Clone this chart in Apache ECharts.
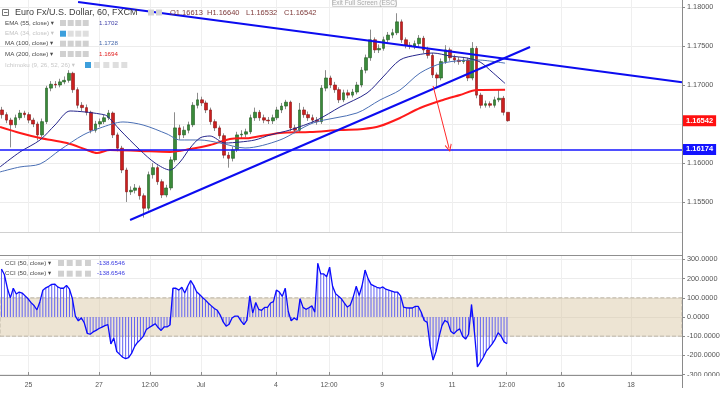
<!DOCTYPE html>
<html><head><meta charset="utf-8">
<script src="https://cdn.jsdelivr.net/npm/echarts@6/dist/echarts.min.js"></script>
<style>html,body{margin:0;padding:0;background:#fff}#c{width:724px;height:393px}</style>
</head><body><div id="c"></div>
<script>
// ---------- data (3-hour candles, x measured in trading hours from left edge) ----------
const firstOpen = 1.1668;
const closes = [
1.1662,1.1655,1.1649,1.1658,1.1664,1.1662,1.1655,1.1650,1.1636,1.1653,
1.1696,1.1701,1.1700,1.1704,1.1706,1.1715,1.1694,1.1674,1.1671,1.1665,
1.1642,1.1650,1.1653,1.1658,1.1664,1.1636,1.1619,1.1591,1.1563,1.1565,
1.1568,1.1558,1.1542,1.1585,1.1594,1.1576,1.1559,1.1568,1.1604,1.1645,
1.1636,1.1642,1.1649,1.1674,1.1681,1.1677,1.1668,1.1653,1.1645,1.1635,
1.1610,1.1606,1.1617,1.1636,1.1637,1.1640,1.1658,1.1665,1.1658,1.1655,
1.1654,1.1658,1.1668,1.1673,1.1678,1.1645,1.1642,1.1668,1.1662,1.1658,
1.1655,1.1653,1.1696,1.1709,1.1700,1.1694,1.1681,1.1690,1.1687,1.1691,
1.1700,1.1719,1.1735,1.1758,1.1745,1.1747,1.1758,1.1764,1.1767,1.1781,
1.1758,1.1751,1.1750,1.1753,1.1760,1.1745,1.1738,1.1713,1.1709,1.1730,
1.1745,1.1735,1.1732,1.1730,1.1732,1.1709,1.1747,1.1687,1.1674,1.1676,
1.1674,1.1681,1.1683,1.1665,1.16542];
const highs = [
1.1672,1.1665,1.1658,1.1662,1.1668,1.1667,1.1665,1.1658,1.1653,1.1657,
1.1699,1.1705,1.1705,1.1708,1.1711,1.1719,1.1717,1.1697,1.1678,1.1675,
1.1667,1.1654,1.1657,1.1662,1.1668,1.1666,1.1639,1.1622,1.1594,1.1570,
1.1573,1.1571,1.1561,1.1589,1.1600,1.1597,1.1579,1.1572,1.1608,1.1665,
1.1649,1.1647,1.1653,1.1678,1.1690,1.1685,1.1680,1.1671,1.1656,1.1648,
1.1638,1.1614,1.1621,1.1640,1.1642,1.1644,1.1662,1.1671,1.1668,1.1662,
1.1659,1.1662,1.1672,1.1677,1.1681,1.1680,1.1649,1.1677,1.1672,1.1666,
1.1662,1.1659,1.1700,1.1719,1.1712,1.1704,1.1697,1.1694,1.1694,1.1695,
1.1704,1.1723,1.1739,1.1771,1.1761,1.1752,1.1762,1.1768,1.1772,1.1792,
1.1784,1.1761,1.1755,1.1757,1.1764,1.1763,1.1749,1.1741,1.1716,1.1734,
1.1751,1.1748,1.1739,1.1736,1.1736,1.1735,1.1755,1.1750,1.1690,1.1680,
1.1679,1.1685,1.1694,1.1686,1.1664];
const lows = [
1.1657,1.1651,1.1620,1.1645,1.1655,1.1658,1.1651,1.1646,1.1629,1.1633,
1.1650,1.1692,1.1696,1.1697,1.1701,1.1703,1.1690,1.1670,1.1666,1.1661,
1.1638,1.1639,1.1646,1.1650,1.1655,1.1632,1.1615,1.1587,1.1550,1.1559,
1.1561,1.1553,1.1530,1.1539,1.1580,1.1572,1.1555,1.1556,1.1565,1.1601,
1.1630,1.1632,1.1638,1.1646,1.1670,1.1673,1.1664,1.1649,1.1641,1.1631,
1.1606,1.1594,1.1602,1.1614,1.1632,1.1633,1.1637,1.1654,1.1654,1.1651,
1.1650,1.1650,1.1655,1.1664,1.1669,1.1641,1.1638,1.1639,1.1658,1.1654,
1.1651,1.1649,1.1650,1.1692,1.1696,1.1690,1.1677,1.1678,1.1683,1.1684,
1.1688,1.1697,1.1715,1.1731,1.1741,1.1741,1.1744,1.1755,1.1760,1.1764,
1.1754,1.1747,1.1746,1.1746,1.1749,1.1741,1.1734,1.1709,1.1697,1.1706,
1.1727,1.1731,1.1728,1.1726,1.1727,1.1705,1.1706,1.1683,1.1670,1.1671,
1.1671,1.1671,1.1678,1.1661,1.1653];
const candleHours = 3;

// moving averages: [hour, price]
const ema55 = [[0,1.15949],[13.5,1.16141],[27.1,1.16295],[37.2,1.16487],[47.4,1.16667],[57.5,1.16654],[67.7,1.16628],[72.4,1.16603],[81.2,1.16423],[94.7,1.16167],[104.9,1.16000],[115,1.15910],[121.8,1.16013],[128.6,1.16192],[135.3,1.16321],[142.1,1.16346],[152.2,1.16256],[162.4,1.16269],[172.5,1.16295],[182.7,1.16359],[196.2,1.16423],[214.5,1.16551],[230,1.16718],[248.3,1.16897],[259.1,1.17103],[270.6,1.17321],[282.1,1.17385],[293,1.17410],[304.5,1.17372],[316,1.17346],[324.8,1.17295],[332.9,1.17167],[341.7,1.17020]];
const ma100 = [[0,1.15885],[13.5,1.15949],[27.1,1.15987],[40.6,1.16167],[56.2,1.16359],[67.7,1.16449],[83.2,1.16526],[96.8,1.16487],[113,1.16372],[121.8,1.16295],[135.3,1.16295],[148.9,1.16256],[165.8,1.16192],[189.4,1.16295],[211.8,1.16513],[241.5,1.16641],[257.1,1.16808],[270.6,1.16936],[284.2,1.17154],[299.7,1.17282],[322.7,1.17321],[341.7,1.17280]];
const ma200 = [[0,1.16462],[13.5,1.16385],[27.1,1.16321],[45.3,1.16256],[58.9,1.16167],[65.6,1.16128],[74.4,1.16167],[94.7,1.16154],[115,1.16141],[128.6,1.16179],[142.1,1.16231],[155.6,1.16308],[169.1,1.16321],[189.4,1.16385],[209.7,1.16397],[230,1.16423],[245.6,1.16436],[257.1,1.16474],[270.6,1.16577],[284.2,1.16705],[299.7,1.16808],[311.2,1.16872],[322.7,1.16936],[341.7,1.16940]];

// CCI(50) sampled every 2 hours
const cciHours = 2;
const cci = [
250,220,150,100,150,120,130,125,110,95,
75,60,37,80,140,152,160,170,172,157,
150,150,165,145,95,5,-20,-5,-30,-85,
-90,-78,-70,-60,-53,-45,-40,-140,-110,-180,
-195,-210,-217,-212,-190,-155,-133,-118,-100,-65,
-55,-45,-35,-55,-70,-52,-52,-42,150,150,
140,155,125,160,190,165,132,117,102,88,
72,58,44,35,10,-26,-48,-38,-5,5,
5,-20,-40,-18,110,20,75,40,35,50,
50,73,80,140,130,108,150,30,-20,-5,
-16,95,50,40,48,58,25,280,225,225,
210,260,160,122,108,95,72,52,63,105,
160,112,165,245,200,170,162,155,150,157,
145,140,135,130,130,110,52,48,47,47,
55,55,25,-18,-28,-150,-225,-180,-105,-45,
-18,-28,-75,-88,-72,-62,-100,-115,-90,65,
-80,-260,-235,-210,-178,-160,-140,-115,-82,-100,
-130,-138.65];

// drawings
const trendDown = [[52.8,1.18064],[461.4,1.17035]];
const trendUp = [[88,1.15269],[358.6,1.17487]];
const arrowPts = [[293,1.16987],[303.8,1.1619]];
const supportLevel = 1.16174;
const lastPrice = 1.16542;

// axes
const timeTickHours = [19.35,67,101.5,136,186.7,222.6,258.5,305.8,342.8,379.6,426.9];
const timeTickLabels = ['25','27','12:00','Jul','4','12:00','9','11','12:00','16','18'];
const priceTicks = [1.155,1.16,1.165,1.17,1.175,1.18];
const priceLabelTicks = [1.155,1.16,1.17,1.175,1.18];
const cciTicks = [-300,-200,-100,0,100,200,300];

// ---------- build ----------
const FF = '"Liberation Sans", Arial, "DejaVu Sans", sans-serif';
const XMAX = 461.4;
const opens = closes.map((c,i)=> i===0 ? firstOpen : closes[i-1]);
const cx = i => i*candleHours + candleHours/2;
const wickData = closes.map((c,i)=>[cx(i), opens[i], c, lows[i], highs[i]]);
const bodyData = closes.map((c,i)=>[cx(i), opens[i], c, Math.min(opens[i],c), Math.max(opens[i],c)]);
const cciData = cci.map((v,i)=>[i*cciHours + cciHours/2, v]);

function timeLabel(v){
  let b=0; for(let i=1;i<timeTickHours.length;i++){ if(Math.abs(timeTickHours[i]-v)<Math.abs(timeTickHours[b]-v)) b=i; }
  return timeTickLabels[b];
}

const G = [];
function T(x,y,text,fill,size,align){ G.push({type:'text', x:x, y:y, z:50, silent:true, style:{text:text, fill:fill, fontSize:size, fontFamily:FF, align:align||'left', verticalAlign:'middle'}}); }
function R(x,y,w,h,fill,stroke){ G.push({type:'rect', z:50, silent:true, shape:{x:x,y:y,width:w,height:h}, style:{fill:fill, stroke:stroke||null, lineWidth:stroke?1:0}}); }
// right axis line
G.push({type:'line', z:40, silent:true, shape:{x1:682.5,y1:0,x2:682.5,y2:388}, style:{stroke:'#8a8a8a', lineWidth:1}});
// title row
R(2.5,9.5,6,6,'#fff','#777'); G.push({type:'line', z:51, silent:true, shape:{x1:4,y1:12.5,x2:7.5,y2:12.5}, style:{stroke:'#777',lineWidth:1}});
T(15,12.5,'Euro Fx/U.S. Dollar, 60, FXCM','#3c3c3c',9);
R(148,9.5,6,6,'#d2d2d2'); R(156,9.5,6,6,'#d2d2d2');
T(170,12.5,'O1.16613','#7e3a3a',7.5); T(207,12.5,'H1.16640','#7e3a3a',7.5);
T(246,12.5,'L1.16532','#7e3a3a',7.5); T(284,12.5,'C1.16542','#7e3a3a',7.5);
// exit full screen
R(332.5,-4.5,64,11,'#fafafa','#d4d4d4'); T(364.5,3.2,'Exit Full Screen (ESC)','#a8a8a8',6.5,'center');
// indicator legends
function icons(xs,y,blueIdx,light){ xs.forEach((x,i)=>R(x,y,6,6, i===blueIdx ? '#3d9fdc' : (light ? '#dedede' : '#d0d0d0'))); }
const ic4 = [60,67.7,75.3,82.7];
const LS = 6.2;
T(5,23,'EMA (55, close) \u25BE','#4a4a4a',LS); icons(ic4,20,-1,false); T(99,23,'1.1702','#4040a8',LS);
T(5,33.7,'EMA (34, close) \u25BE','#c4c4c4',LS); icons(ic4,30.7,0,true);
T(5,43.7,'MA (100, close) \u25BE','#4a4a4a',LS); icons(ic4,40.7,-1,false); T(99,43.7,'1.1728','#4466aa',LS);
T(5,54,'MA (200, close) \u25BE','#4a4a4a',LS); icons(ic4,51,-1,false); T(99,54,'1.1694','#e02020',LS);
T(5,65,'Ichimoku (9, 26, 52, 26) \u25BE','#c8c8c8',LS); icons([85,94,103.3,112.7,121.3],62,0,true);
const icC = [58,66.7,75.7,85];
T(5,263,'CCI (50, close) \u25BE','#4a4a4a',LS); icons(icC,260,-1,false); T(97,263,'-138.6546','#3a3ae0',LS);
T(5,273.5,'CCI (50, close) \u25BE','#4a4a4a',LS); icons(icC,270.7,-1,false); T(97,273.5,'-138.6546','#3a3ae0',LS);
// cover for clipped lowest CCI label
G.push({type:'rect', z:60, silent:true, shape:{x:684,y:376,width:40,height:17}, style:{fill:'#fff'}});

const chart = echarts.init(document.getElementById('c'), null, {renderer:'canvas'});
const gridLine = {show:true, lineStyle:{color:'#ececec', width:1}};
const tag = (txt,bg)=>({show:true, position:'end', formatter:txt, color:'#fff', backgroundColor:bg, fontSize:7.5, fontWeight:'bold', fontFamily:FF, padding:[2,3,1,3], distance:1});
chart.setOption({
  animation:false,
  backgroundColor:'#fff',
  grid:[{left:0, top:0, width:682, height:232}, {left:0, top:255, width:682, height:120}],
  xAxis:[
    {gridIndex:0, type:'value', min:0, max:XMAX, axisLine:{show:true, onZero:false, lineStyle:{color:'#d0d0d0'}},
     axisTick:{show:false, customValues:timeTickHours}, axisLabel:{show:false, customValues:timeTickHours}, splitLine:{show:true, lineStyle:{color:'#efefef'}}},
    {gridIndex:1, type:'value', min:0, max:XMAX, position:'bottom', axisLine:{show:true, onZero:false, lineStyle:{color:'#8f8f8f'}},
     axisTick:{show:true, inside:true, length:3, customValues:timeTickHours, lineStyle:{color:'#8f8f8f'}},
     axisLabel:{customValues:timeTickHours, formatter:timeLabel, fontSize:6.8, fontFamily:FF, color:'#555', margin:7},
     splitLine:{show:true, lineStyle:{color:'#efefef'}}},
    {gridIndex:1, type:'value', min:0, max:XMAX, position:'top', axisLine:{show:true, onZero:false, lineStyle:{color:'#8f8f8f'}},
     axisTick:{show:false}, axisLabel:{show:false}, splitLine:{show:false}}
  ],
  yAxis:[
    {gridIndex:0, type:'value', position:'right', min:1.15115, max:1.1809, axisLine:{show:false, onZero:false},
     axisTick:{show:true, length:3, customValues:priceTicks, lineStyle:{color:'#8a8a8a'}},
     axisLabel:{customValues:priceLabelTicks, formatter:v=>v.toFixed(5), fontSize:7.3, fontFamily:FF, color:'#555', margin:5},
     splitLine:gridLine},
    {gridIndex:1, type:'value', position:'right', min:-302.6, max:323.4, axisLine:{show:false, onZero:false},
     axisTick:{show:true, length:3, customValues:cciTicks, lineStyle:{color:'#8a8a8a'}},
     axisLabel:{customValues:cciTicks, formatter:v=>v.toFixed(4), fontSize:7.3, fontFamily:FF, color:'#555', margin:5},
     splitLine:gridLine}
  ],
  graphic: G,
  series:[
    {type:'candlestick', name:'wicks', xAxisIndex:0, yAxisIndex:0, data:wickData, encode:{x:0, y:[1,2,3,4]}, barWidth:1, silent:true,
     itemStyle:{color:'#8c8c8c', color0:'#8c8c8c', borderColor:'#8c8c8c', borderColor0:'#8c8c8c', borderWidth:1},
     markLine:{silent:true, symbol:'none', precision:5, lineStyle:{color:'#1414ff', width:1.5, type:'solid'},
       label:tag(supportLevel.toFixed(5),'#1414ff'), data:[{yAxis:supportLevel}]}},
    {type:'candlestick', name:'bodies', xAxisIndex:0, yAxisIndex:0, data:bodyData, encode:{x:0, y:[1,2,3,4]}, barWidth:3.1, silent:true,
     itemStyle:{color:'#3a8a3a', color0:'#cc1f1f', borderColor:'#1f5a1f', borderColor0:'#8a1010', borderWidth:0.6},
     markLine:{silent:true, symbol:'none', precision:5, lineStyle:{color:'rgba(0,0,0,0)', width:1},
       label:tag(lastPrice.toFixed(5),'#ff1010'), data:[{yAxis:lastPrice}]}},
    {type:'line', name:'MA200', xAxisIndex:0, yAxisIndex:0, data:ma200, symbol:'none', smooth:0.3, silent:true, lineStyle:{color:'#ff1a1a', width:2}},
    {type:'line', name:'MA100', xAxisIndex:0, yAxisIndex:0, data:ma100, symbol:'none', smooth:0.3, silent:true, lineStyle:{color:'#4a6fb4', width:1}},
    {type:'line', name:'EMA55', xAxisIndex:0, yAxisIndex:0, data:ema55, symbol:'none', smooth:0.3, silent:true, lineStyle:{color:'#26268c', width:1}},
    {type:'line', name:'trendDown', xAxisIndex:0, yAxisIndex:0, data:trendDown, symbol:'none', silent:true, lineStyle:{color:'#0c0cf0', width:2}},
    {type:'line', name:'trendUp', xAxisIndex:0, yAxisIndex:0, data:trendUp, symbol:'none', silent:true, lineStyle:{color:'#0c0cf0', width:2},
     markLine:{silent:true, precision:5, symbol:['none','path://M5,0 L10,9 L9,10 L5,3 L1,10 L0,9 Z'], symbolSize:[7,8],
       lineStyle:{color:'#ff2a2a', width:1, type:'solid'}, label:{show:false},
       data:[[{coord:arrowPts[0]},{coord:arrowPts[1]}]]}},
    {type:'bar', name:'CCI hist', xAxisIndex:1, yAxisIndex:1, data:cciData, barWidth:1, silent:true, itemStyle:{color:'#6262f2'},
     markArea:{silent:true, itemStyle:{color:'rgba(214,196,158,0.45)', borderColor:'#bdb5a6', borderWidth:1, borderType:'dashed'},
       data:[[{yAxis:-100},{yAxis:100}]]}},
    {type:'line', name:'CCI', xAxisIndex:1, yAxisIndex:1, data:cciData, symbol:'none', silent:true, lineStyle:{color:'#0a0aff', width:1.3}}
  ]
});
</script>
</body></html>
